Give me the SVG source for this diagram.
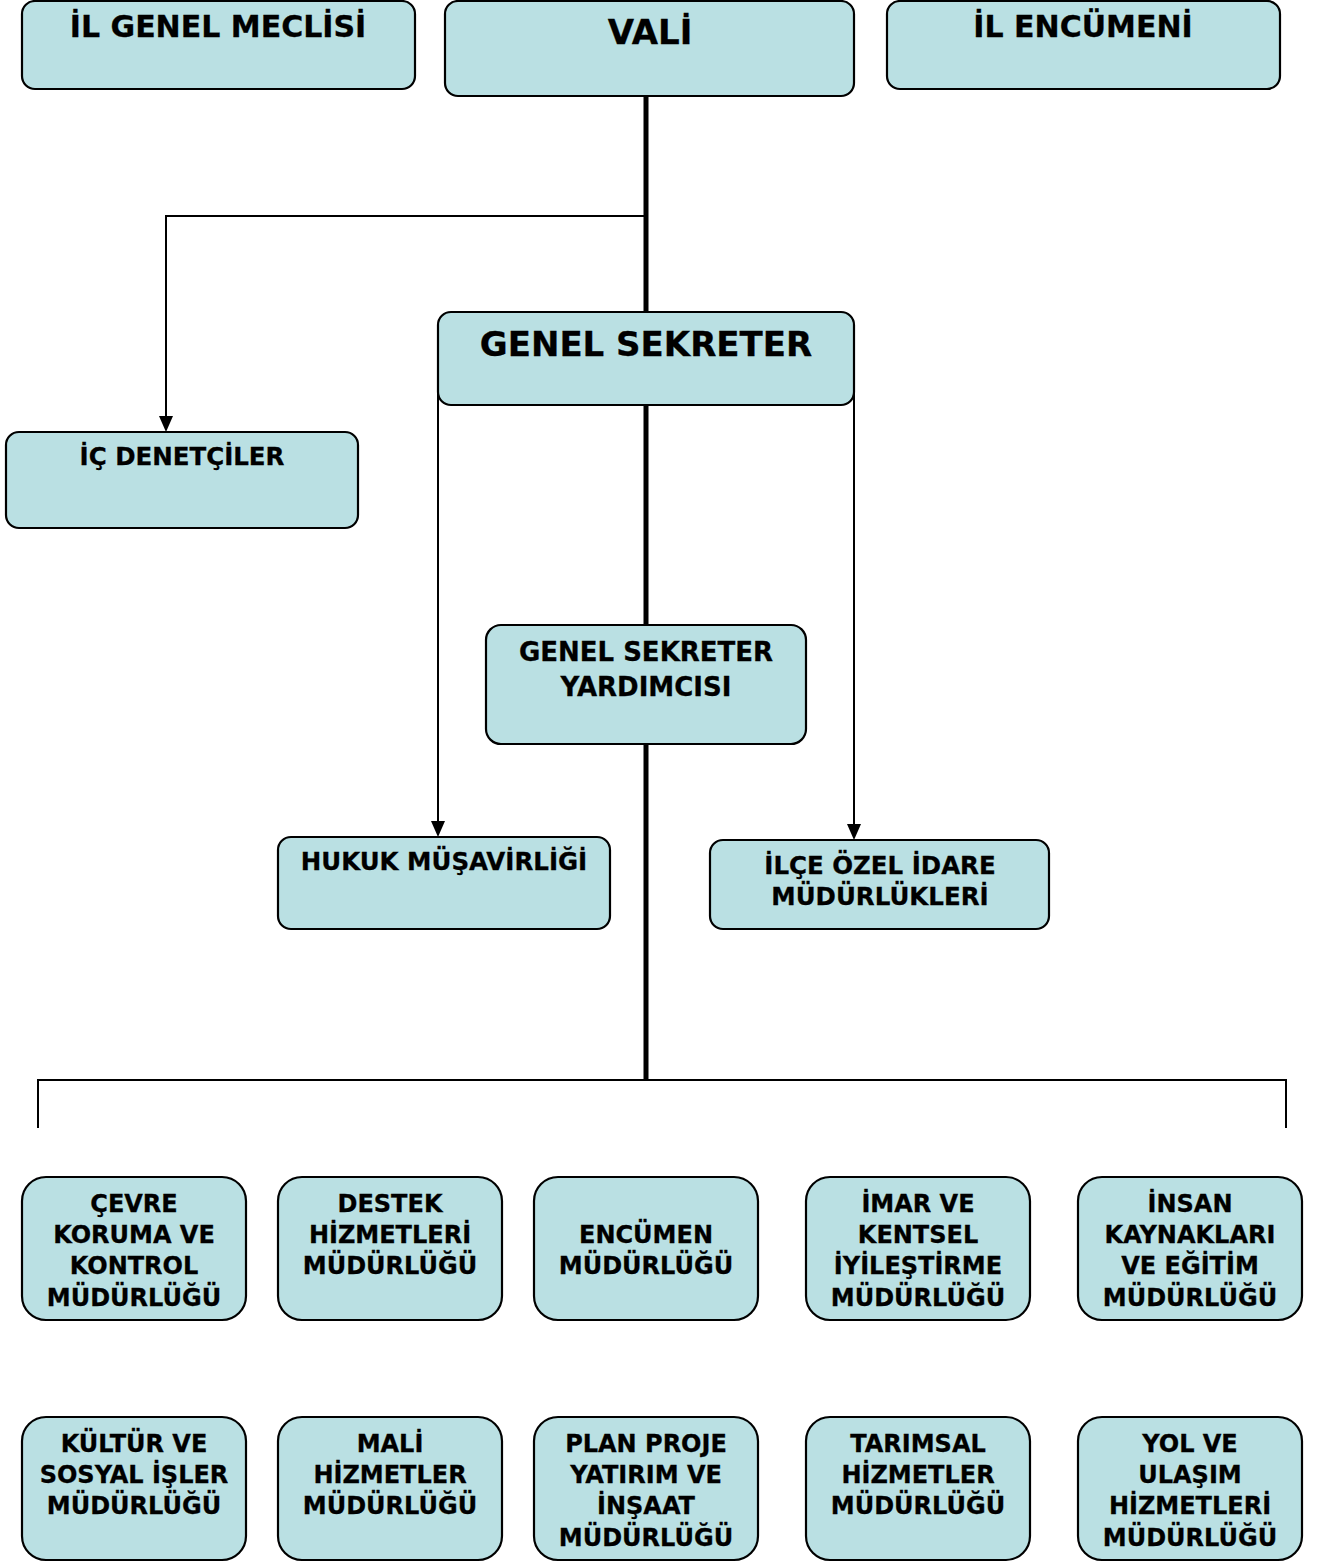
<svg xmlns="http://www.w3.org/2000/svg" width="1319" height="1562" viewBox="0 0 1319 1562">
<defs>
<style>
.box{fill:#BAE0E3;stroke:#000;stroke-width:2.2}
text{font-family:"DejaVu Sans","Liberation Sans",sans-serif;font-weight:bold;fill:#000;stroke:#000;stroke-width:0.3;text-anchor:middle}
.t24{font-size:24px}
.thin{fill:none;stroke:#000;stroke-width:2}
.thick{fill:none;stroke:#000;stroke-width:5}
.ah{fill:#000}
</style>
</defs>
<rect width="1319" height="1562" fill="#fff"/>
<g id="connectors">
<line class="thick" x1="646" y1="96" x2="646" y2="312"/>
<line class="thick" x1="646" y1="405" x2="646" y2="625"/>
<line class="thick" x1="646" y1="744" x2="646" y2="1081"/>
<polyline class="thin" points="646,216 166,216 166,418"/>
<path class="ah" d="M159,416 L173,416 L166,432 Z"/>
<line class="thin" x1="438" y1="335" x2="438" y2="823"/>
<path class="ah" d="M431,821 L445,821 L438,837 Z"/>
<line class="thin" x1="854" y1="335" x2="854" y2="826"/>
<path class="ah" d="M847,824 L861,824 L854,840 Z"/>
<polyline class="thin" points="38,1128 38,1080 1286,1080 1286,1128"/>
</g>
<g id="n-meclis"><rect class="box" x="22" y="1" width="393" height="88" rx="13"/><text x="218" y="37" font-size="30">İL GENEL MECLİSİ</text></g>
<g id="n-vali"><rect class="box" x="445" y="1" width="409" height="95" rx="13"/><text x="650" y="44" font-size="34">VALİ</text></g>
<g id="n-encumen"><rect class="box" x="887" y="1" width="393" height="88" rx="13"/><text x="1083" y="37" font-size="30">İL ENCÜMENİ</text></g>
<g id="n-gs"><rect class="box" x="438" y="312" width="416" height="93" rx="13"/><text x="646" y="356" font-size="34">GENEL SEKRETER</text></g>
<g id="n-ic"><rect class="box" x="6" y="432" width="352" height="96" rx="13"/><text x="182" y="465" font-size="24.5">İÇ DENETÇİLER</text></g>
<g id="n-gsy"><rect class="box" x="486" y="625" width="320" height="119" rx="15"/><text x="646" y="661" font-size="26">GENEL SEKRETER</text><text x="646" y="696" font-size="26">YARDIMCISI</text></g>
<g id="n-hukuk"><rect class="box" x="278" y="837" width="332" height="92" rx="13"/><text x="444" y="870" font-size="24.5">HUKUK MÜŞAVİRLİĞİ</text></g>
<g id="n-ilce"><rect class="box" x="710" y="840" width="339" height="89" rx="13"/><text x="880" y="874" font-size="24.5">İLÇE ÖZEL İDARE</text><text x="880" y="905" font-size="24.5">MÜDÜRLÜKLERİ</text></g>
<g id="n-cevre"><rect class="box" x="22" y="1177" width="224" height="143" rx="24"/><text class="t24" x="134" y="1212">ÇEVRE</text><text class="t24" x="134" y="1243">KORUMA VE</text><text class="t24" x="134" y="1274">KONTROL</text><text class="t24" x="134" y="1306">MÜDÜRLÜĞÜ</text></g>
<g id="n-destek"><rect class="box" x="278" y="1177" width="224" height="143" rx="24"/><text class="t24" x="390" y="1212">DESTEK</text><text class="t24" x="390" y="1243">HİZMETLERİ</text><text class="t24" x="390" y="1274">MÜDÜRLÜĞÜ</text></g>
<g id="n-encmud"><rect class="box" x="534" y="1177" width="224" height="143" rx="24"/><text class="t24" x="646" y="1243">ENCÜMEN</text><text class="t24" x="646" y="1274">MÜDÜRLÜĞÜ</text></g>
<g id="n-imar"><rect class="box" x="806" y="1177" width="224" height="143" rx="24"/><text class="t24" x="918" y="1212">İMAR VE</text><text class="t24" x="918" y="1243">KENTSEL</text><text class="t24" x="918" y="1274">İYİLEŞTİRME</text><text class="t24" x="918" y="1306">MÜDÜRLÜĞÜ</text></g>
<g id="n-insan"><rect class="box" x="1078" y="1177" width="224" height="143" rx="24"/><text class="t24" x="1190" y="1212">İNSAN</text><text class="t24" x="1190" y="1243">KAYNAKLARI</text><text class="t24" x="1190" y="1274">VE EĞİTİM</text><text class="t24" x="1190" y="1306">MÜDÜRLÜĞÜ</text></g>
<g id="n-kultur"><rect class="box" x="22" y="1417" width="224" height="143" rx="24"/><text class="t24" x="134" y="1452">KÜLTÜR VE</text><text class="t24" x="134" y="1483">SOSYAL İŞLER</text><text class="t24" x="134" y="1514">MÜDÜRLÜĞÜ</text></g>
<g id="n-mali"><rect class="box" x="278" y="1417" width="224" height="143" rx="24"/><text class="t24" x="390" y="1452">MALİ</text><text class="t24" x="390" y="1483">HİZMETLER</text><text class="t24" x="390" y="1514">MÜDÜRLÜĞÜ</text></g>
<g id="n-plan"><rect class="box" x="534" y="1417" width="224" height="143" rx="24"/><text class="t24" x="646" y="1452">PLAN PROJE</text><text class="t24" x="646" y="1483">YATIRIM VE</text><text class="t24" x="646" y="1514">İNŞAAT</text><text class="t24" x="646" y="1546">MÜDÜRLÜĞÜ</text></g>
<g id="n-tarim"><rect class="box" x="806" y="1417" width="224" height="143" rx="24"/><text class="t24" x="918" y="1452">TARIMSAL</text><text class="t24" x="918" y="1483">HİZMETLER</text><text class="t24" x="918" y="1514">MÜDÜRLÜĞÜ</text></g>
<g id="n-yol"><rect class="box" x="1078" y="1417" width="224" height="143" rx="24"/><text class="t24" x="1190" y="1452">YOL VE</text><text class="t24" x="1190" y="1483">ULAŞIM</text><text class="t24" x="1190" y="1514">HİZMETLERİ</text><text class="t24" x="1190" y="1546">MÜDÜRLÜĞÜ</text></g>
</svg>
